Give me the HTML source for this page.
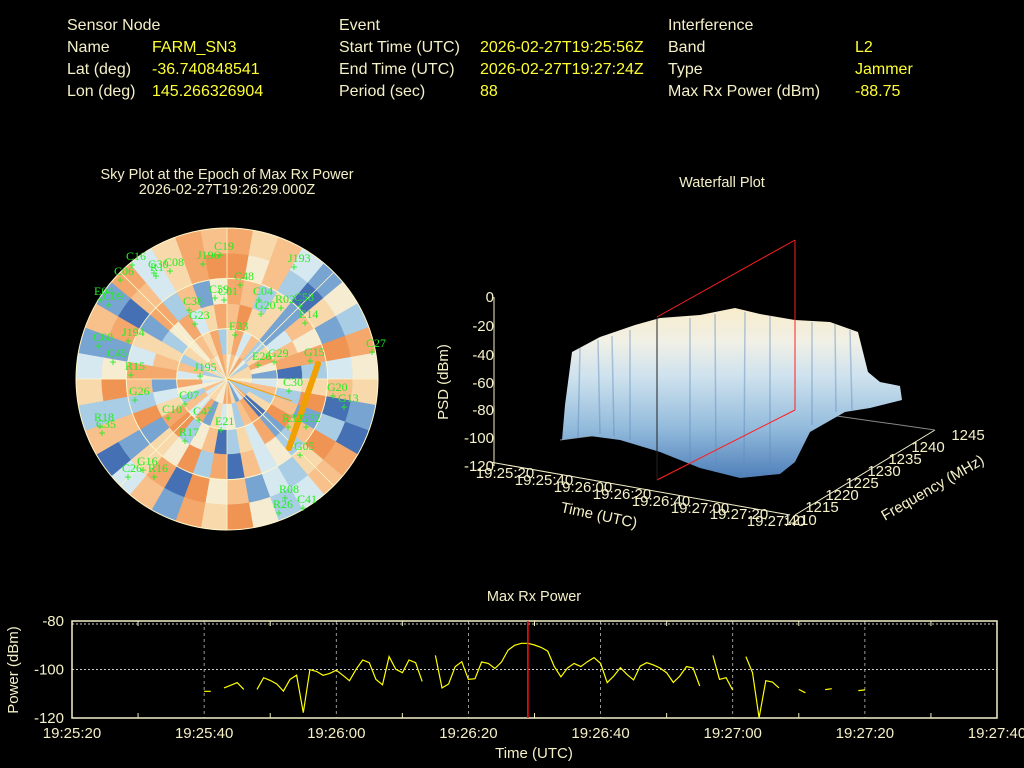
<!DOCTYPE html>
<html><head><meta charset="utf-8"><style>
body{margin:0;background:#000;width:1024px;height:768px;overflow:hidden;font-family:"Liberation Sans",sans-serif}
svg{position:absolute;left:0;top:0}
</style></head><body>
<svg id="s" width="1024" height="768" font-family="Liberation Sans, sans-serif">
<g font-size="16">
<text x="67" y="30" fill="#f5f0c8">Sensor Node</text>
<text x="67" y="52" fill="#f5f0c8">Name</text><text x="152" y="52" fill="#ffff33">FARM_SN3</text>
<text x="67" y="74" fill="#f5f0c8">Lat (deg)</text><text x="152" y="74" fill="#ffff33">-36.740848541</text>
<text x="67" y="96" fill="#f5f0c8">Lon (deg)</text><text x="152" y="96" fill="#ffff33">145.266326904</text>
<text x="339" y="30" fill="#f5f0c8">Event</text>
<text x="339" y="52" fill="#f5f0c8">Start Time (UTC)</text><text x="480" y="52" fill="#ffff33">2026-02-27T19:25:56Z</text>
<text x="339" y="74" fill="#f5f0c8">End Time (UTC)</text><text x="480" y="74" fill="#ffff33">2026-02-27T19:27:24Z</text>
<text x="339" y="96" fill="#f5f0c8">Period (sec)</text><text x="480" y="96" fill="#ffff33">88</text>
<text x="668" y="30" fill="#f5f0c8">Interference</text>
<text x="668" y="52" fill="#f5f0c8">Band</text><text x="855" y="52" fill="#ffff33">L2</text>
<text x="668" y="74" fill="#f5f0c8">Type</text><text x="855" y="74" fill="#ffff33">Jammer</text>
<text x="668" y="96" fill="#f5f0c8">Max Rx Power (dBm)</text><text x="855" y="96" fill="#ffff33">-88.75</text>
</g>
<g>
<text x="227" y="179" fill="#f5f0c8" font-size="14.5" text-anchor="middle">Sky Plot at the Epoch of Max Rx Power</text>
<text x="227" y="194" fill="#f5f0c8" font-size="14.5" text-anchor="middle">2026-02-27T19:26:29.000Z</text>
<g id="sky"></g>
</g>
<g>
<text x="722" y="187" fill="#f5f0c8" font-size="14.5" text-anchor="middle">Waterfall Plot</text>
<defs><linearGradient id="sg" x1="0" y1="0" x2="0" y2="1">
<stop offset="0" stop-color="#f8eccb"/><stop offset="0.2" stop-color="#f0f0e6"/><stop offset="0.4" stop-color="#cfe2ee"/><stop offset="0.7" stop-color="#94bcdc"/><stop offset="1" stop-color="#4f7fba"/></linearGradient></defs>
<g stroke="#f5f0c8" stroke-width="1" fill="none">
<line x1="494" y1="297" x2="494" y2="466"/>
<line x1="490" y1="462" x2="790" y2="515"/>
<line x1="795" y1="515" x2="935" y2="430"/>
<line x1="795" y1="410" x2="935" y2="430" stroke="#888"/>
<line x1="560" y1="440" x2="795" y2="410" stroke="#888"/>
</g>
<path d="M562,440 L565,405 L572,352 L600,337 L635,325 L660,318 L700,315 L735,308 L760,314 L795,320 L830,322 L858,332 L868,372 L880,382 L900,386 L902,400 L870,408 L845,412 L810,432 L795,462 L780,474 L740,478 L700,468 L660,452 L620,440 L590,436 Z" fill="url(#sg)"/>
<g stroke="#5f8cbf" stroke-opacity="0.45" stroke-width="1.5" fill="none">
<path d="M580,348 L578,438 M598,340 L600,434 M612,336 L614,436 M630,330 L630,440 M690,318 L690,462 M715,314 L716,472 M745,312 L744,477 M770,316 L770,475 M812,322 L812,425 M835,324 L836,412 M850,330 L852,410"/></g>
<g stroke="#ff2020" fill="none" stroke-width="1"><line x1="657" y1="317" x2="795" y2="240"/><line x1="795" y1="240" x2="795" y2="410"/><line x1="657" y1="480" x2="795" y2="410"/></g>
<line x1="657" y1="317" x2="657" y2="480" stroke="#222"/>
<g fill="#f5f0c8" font-size="15" text-anchor="end">
<text x="494" y="302">0</text><text x="494" y="331">-20</text><text x="494" y="360">-40</text><text x="494" y="388">-60</text><text x="494" y="415">-80</text><text x="494" y="443">-100</text><text x="494" y="471">-120</text></g>
<text transform="translate(448,382) rotate(-90)" fill="#f5f0c8" font-size="15" text-anchor="middle">PSD (dBm)</text>
<g fill="#f5f0c8" font-size="15" text-anchor="middle">
<text x="505" y="478">19:25:20</text><text x="544" y="485">19:25:40</text><text x="583" y="492">19:26:00</text><text x="622" y="499">19:26:20</text><text x="661" y="506">19:26:40</text><text x="700" y="513">19:27:00</text><text x="739" y="519">19:27:20</text><text x="776" y="526">19:27:40</text>
<text x="800" y="525">1210</text><text x="822" y="512">1215</text><text x="842" y="500">1220</text><text x="862" y="488">1225</text><text x="884" y="476">1230</text><text x="905" y="464">1235</text><text x="928" y="452">1240</text><text x="968" y="440">1245</text></g>
<text transform="translate(598,520) rotate(12)" fill="#f5f0c8" font-size="15" text-anchor="middle">Time (UTC)</text>
<text transform="translate(935,492) rotate(-30)" fill="#f5f0c8" font-size="15" text-anchor="middle">Frequency (MHz)</text>
</g>
<g>
<text x="534" y="601" fill="#f5f0c8" font-size="14.5" text-anchor="middle">Max Rx Power</text>
<g id="lc"></g>
</g>
</svg>
<script>
// ---- line chart data ----
var secs=[20,21,22,23,24,25,26,27,28,29,30,31,32,33,34,35,36,37,38,39,40,41,42,43,44,45,46,47,48,49,50,51,52,53,54,55,56,57,58,59,60,61,62,63,64,65,66,67,68,69,70,71,72,73,74,75,76,77,78,79,80,81,82,83,84,85,86,87,88,89,90,91,92,93,94,95,96,97,98,99,100,101,102,103,104,105,106,107,108,109,110,111,112,113,114,115,116,117,118,119,120];
var power=[-109,-109,null,-107.6,-106.5,-105.4,-108.2,null,-108.2,-103.4,-104.5,-106,-108.9,-104.1,-102.3,-117.8,-100.1,-100.8,-102.4,-101.6,-100.3,-102.4,-104.6,-99.9,-96.1,-97.2,-104.1,-106.3,-94.7,-99.9,-101.3,-96.1,-97.2,-104.9,null,-94.2,-107.6,-106,-98.8,-96.8,-104.1,-103.8,-96.9,-97.5,-99.6,-96.9,-92,-90,-89.2,-89.2,-89.9,-90.9,-92.4,-98.8,-103,-99.4,-97.5,-98.8,-96.8,-95.1,-97.5,-105.4,-102.7,-99.2,-102,-104.3,-98.6,-97.2,-98.1,-99.4,-101.3,-105.3,-102.7,-98.8,-99.4,-106.8,null,-94.2,-104.1,-103.4,-108.5,null,-94.7,-101.3,-119.9,-104.6,-105.2,-107.6,null,null,-108.2,-109.6,null,null,-108.3,-107.9,null,null,null,-108.7,-108.4];
var xTickLabels=["19:25:20","19:25:40","19:26:00","19:26:20","19:26:40","19:27:00","19:27:20","19:27:40"];
var yTicks=[-80,-100,-120];
var peakSec=69;
// ---- sky plot data (rings inner->outer, 36 azimuth bins from north clockwise) ----
var skyRings=[
"575843666573384268855664754536476587",
"684736852473618735462847358473657683",
"796624781537928463175398642876358468",
"873627583692735471839562937846283725",
"957316294713963427591862739528174689",
"867425385621874359682741736427284687"];
// satellite name, east offset, south offset (marker position relative to zenith, px)
var sats=[["C19",-7,-124],["J196",-24,-115],["C16",-95,-114],["G30",-73,-106],["R1",-71,-103],["C08",-57,-108],["C06",-107,-99],["J193",67,-112],["C48",13,-94],["C38",-38,-69],["C59",-12,-81],["C01",-3,-79],["C04",32,-79],["G20",34,-65],["R02",54,-71],["C58",73,-73],["E14",78,-56],["E04",-127,-79],["C09",-118,-74],["G23",-32,-55],["E33",8,-44],["C60",-128,-33],["C45",-114,-17],["J194",-99,-38],["R15",-96,-4],["J195",-27,-3],["E26",31,-14],["G29",47,-17],["G15",83,-18],["C27",145,-27],["G26",-92,21],["C30",62,12],["G20",106,17],["G13",117,28],["C07",-42,25],["C10",-59,39],["C47",-28,41],["E21",-6,51],["R18",-127,47],["C35",-125,54],["R17",-42,62],["R32",61,48],["G32",79,48],["G05",73,76],["G16",-84,91],["C26",-99,98],["R16",-73,98],["R08",58,119],["R26",52,134],["C41",76,129]];
function el(t,a,p){var e=document.createElementNS("http://www.w3.org/2000/svg",t);for(var k in a)e.setAttribute(k,a[k]);if(p)p.appendChild(e);return e;}
var pal=["#2b4a98","#4570b4","#78a4d2","#a9cde4","#d6e9f0","#f5ecd2","#f8d9ac","#f8c18c","#f4a86c","#f09454"];
// sky
(function(){
var g=document.getElementById("sky"),cx=227,cy=379,R=151;
function rr(k){return R*k/skyRings.length;}
for(var i=0;i<skyRings.length;i++){for(var j=0;j<36;j++){
 var v=+skyRings[i][j];var a0=(j*10-90)*Math.PI/180,a1=((j+1)*10-90)*Math.PI/180,r0=rr(i),r1=rr(i+1);
 var d="M"+(cx+r0*Math.cos(a0))+","+(cy+r0*Math.sin(a0))+"L"+(cx+r1*Math.cos(a0))+","+(cy+r1*Math.sin(a0))+"A"+r1+","+r1+" 0 0 1 "+(cx+r1*Math.cos(a1))+","+(cy+r1*Math.sin(a1))+"L"+(cx+r0*Math.cos(a1))+","+(cy+r0*Math.sin(a1))+(r0>0?"A"+r0+","+r0+" 0 0 0 "+(cx+r0*Math.cos(a0))+","+(cy+r0*Math.sin(a0)):"")+"Z";
 var p=el("path",{d:d,fill:pal[v],stroke:pal[v],"stroke-width":"0.5"},g);
 
 
}}
[R/3,2*R/3,R].forEach(function(r){el("circle",{cx:cx,cy:cy,r:r,fill:"none",stroke:"#fff6c8","stroke-width":"1"},g);});
for(var a=0;a<360;a+=45){var t=a*Math.PI/180;el("line",{x1:cx,y1:cy,x2:cx+R*Math.cos(t),y2:cy+R*Math.sin(t),stroke:"#fff6c8","stroke-width":"0.8"},g);}
el("line",{x1:cx,y1:cy,x2:cx+65,y2:cy+22,stroke:"#f0a000","stroke-width":"1"},g);
var tr=el("line",{x1:cx+91,y1:cy-15,x2:cx+62,y2:cy+69,stroke:"#f0a000","stroke-width":"6","stroke-linecap":"round"},g);


sats.forEach(function(s){
 var x=cx+s[1],y=cy+s[2];
 var t=el("text",{x:x-6,y:y-5,fill:"#22ee22","font-size":"12","font-family":"Liberation Serif, serif"},g);t.textContent=s[0];
 
 
 var m=el("text",{x:x,y:y+4,fill:"#22ee22","font-size":"12","text-anchor":"middle"},g);m.textContent="+";
 
 
});
})();
// line chart
(function(){
var g=document.getElementById("lc"),L=72,Rt=997,T=621,B=718;
function X(s){return L+(s/140)*(Rt-L);} function Y(v){return T+(-80-v)/40*(B-T);}
var c="#f5f0c8";
for(var i=0;i<xTickLabels.length;i++){var x=X(i*20);
 if(i>0&&i<xTickLabels.length-1)el("line",{x1:x,y1:T,x2:x,y2:B,stroke:"#bbb","stroke-dasharray":"3,3","stroke-width":"0.8"},g);
 var t=el("text",{x:x,y:B+20,fill:c,"font-size":"15","text-anchor":"middle"},g);t.textContent=xTickLabels[i];
 
 }
for(var s=10;s<140;s+=20){el("line",{x1:X(s),y1:B,x2:X(s),y2:B-5,stroke:c},g);el("line",{x1:X(s),y1:T,x2:X(s),y2:T+5,stroke:c},g);}
yTicks.forEach(function(v){var y=Y(v);
 if(v==-100)el("line",{x1:L,y1:y,x2:Rt,y2:y,stroke:"#ccc","stroke-dasharray":"2,2"},g);
 var t=el("text",{x:L-8,y:y+5,fill:c,"font-size":"15","text-anchor":"end"},g);t.textContent=v;
 
 });
el("line",{x1:L,y1:T+3,x2:Rt,y2:T+3,stroke:"#ccc","stroke-dasharray":"2,2"},g);
el("rect",{x:L,y:T,width:Rt-L,height:B-T,fill:"none",stroke:c,"stroke-width":"1.5"},g);
var d="",pen=false;
for(var i=0;i<secs.length;i++){if(power[i]===null){pen=false;continue;}d+=(pen?"L":"M")+X(secs[i]).toFixed(1)+","+Y(power[i]).toFixed(1);pen=true;
 if(i+1>=secs.length||power[i+1]===null){if(i==0||power[i-1]===null)d+="l4,0";}}
var p=el("path",{d:d,fill:"none",stroke:"#ffff00","stroke-width":"1.2"},g);


var r=el("line",{x1:X(peakSec),y1:T,x2:X(peakSec),y2:B,stroke:"#ff1010","stroke-width":"1.5"},g);


var yt=el("text",{transform:"translate(18,670) rotate(-90)",fill:c,"font-size":"15","text-anchor":"middle"},g);yt.textContent="Power (dBm)";


var xt=el("text",{x:534,y:758,fill:c,"font-size":"15","text-anchor":"middle"},g);xt.textContent="Time (UTC)";


})();
</script>
</body></html>
